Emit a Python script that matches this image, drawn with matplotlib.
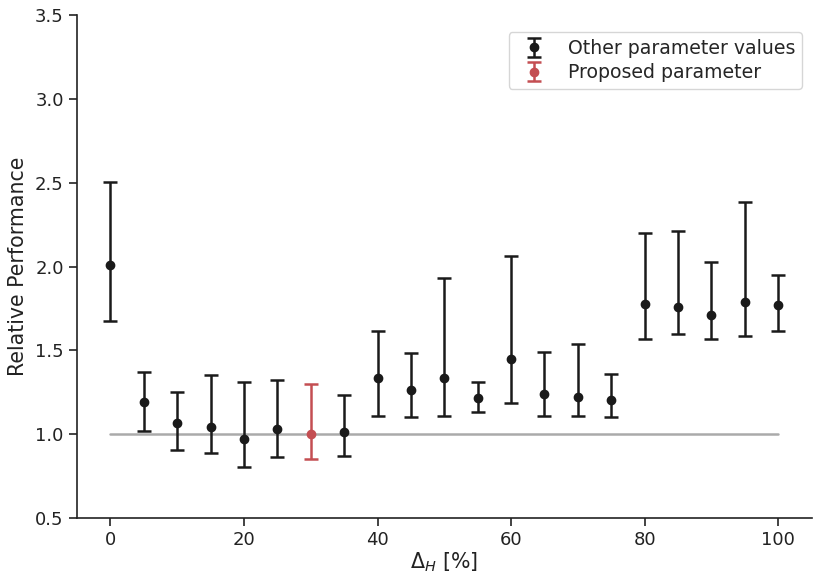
import matplotlib

matplotlib.use("Agg")
import matplotlib.pyplot as plt
import numpy as np
import seaborn as sns

# values
delta_h = [0, 5, 10, 15, 20, 25, 35, 40, 45, 50, 55, 60, 65, 70, 75, 80, 85, 90, 95, 100]
perf_mean = [2.01, 1.195, 1.066, 1.043, 0.971, 1.031, 1.011, 1.335, 1.261, 1.333, 1.218,
             1.446, 1.241, 1.222, 1.204, 1.778, 1.760, 1.711, 1.788, 1.770]
perf_low = [1.675, 1.019, 0.904, 0.888, 0.804, 0.866, 0.872, 1.110, 1.104, 1.108, 1.130,
            1.186, 1.108, 1.106, 1.104, 1.569, 1.597, 1.566, 1.583, 1.615]
perf_high = [2.502, 1.371, 1.251, 1.355, 1.313, 1.321, 1.233, 1.613, 1.484, 1.929, 1.313,
             2.061, 1.488, 1.536, 1.357, 2.198, 2.210, 2.027, 2.383, 1.947]

proposed_x = [30]
proposed_mean = [1.0]
proposed_low = [0.854]
proposed_high = [1.301]

baseline_x = [0, 100]
baseline_y = [1.0, 1.0]


def main():
    sns.set_theme(style="ticks")
    plt.rcParams["font.family"] = ["DejaVu Sans"]

    fig = plt.figure(figsize=(8.3, 5.84), dpi=100)
    ax = fig.add_axes([0.0928, 0.113, 0.885, 0.861])

    ax.plot(baseline_x, baseline_y, color="#aaaaaa", lw=1.8, zorder=1)

    mean = np.array(perf_mean)
    yerr = np.vstack([mean - np.array(perf_low), np.array(perf_high) - mean])
    ax.errorbar(delta_h, mean, yerr=yerr, fmt="o", color="#1a1a1a", ms=6,
                elinewidth=1.8, capsize=5, capthick=1.8,
                label="Other parameter values", zorder=3)

    pmean = np.array(proposed_mean)
    perr = np.vstack([pmean - np.array(proposed_low), np.array(proposed_high) - pmean])
    ax.errorbar(proposed_x, pmean, yerr=perr, fmt="o", color="#c44e52", ms=6,
                elinewidth=1.8, capsize=5, capthick=1.8,
                label="Proposed parameter", zorder=3)

    ax.set_xlim(-5, 105)
    ax.set_ylim(0.5, 3.5)
    ax.set_yticks([0.5, 1.0, 1.5, 2.0, 2.5, 3.0, 3.5])
    ax.set_xticks([0, 20, 40, 60, 80, 100])
    ax.tick_params(labelsize=13, length=6, width=1.2, color="#222222", labelcolor="#222222")
    for side in ("left", "bottom"):
        ax.spines[side].set_linewidth(1.2)
        ax.spines[side].set_color("#222222")
    sns.despine(ax=ax)

    ax.set_xlabel(r"$\Delta_H$ [%]", fontsize=14.8, color="#222222", labelpad=1)
    ax.set_ylabel("Relative Performance", fontsize=14.8, color="#222222", labelpad=5)

    ax.legend(loc="upper right", fontsize=13.6, frameon=True, borderpad=0.35,
              handletextpad=0.8, labelspacing=0.3, bbox_to_anchor=(1.0, 0.985))

    fig.savefig("out.png", dpi=100)


if __name__ == "__main__":
    main()
